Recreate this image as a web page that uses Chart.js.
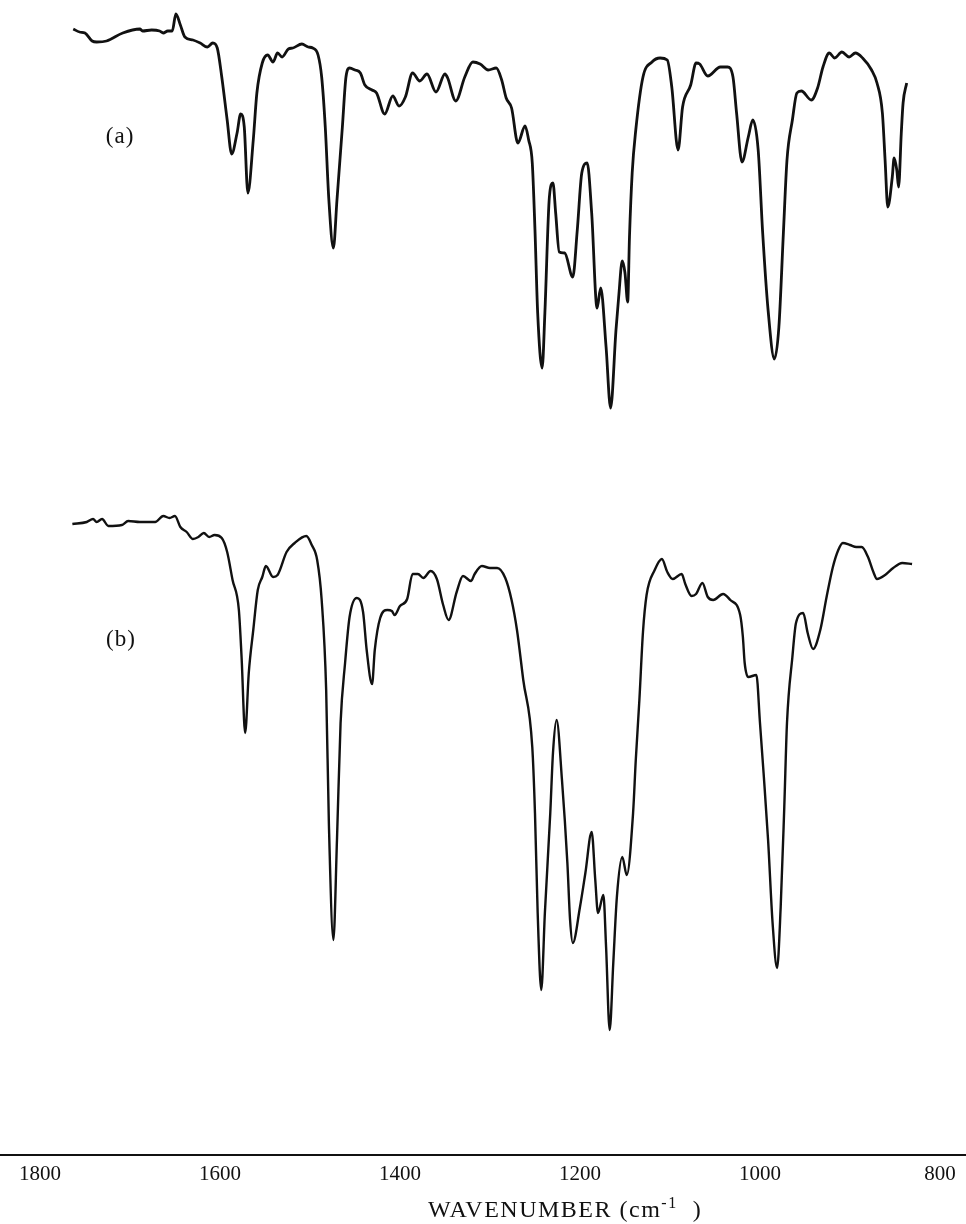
<!DOCTYPE html>
<html>
<head>
<meta charset="utf-8">
<script src="https://cdn.jsdelivr.net/npm/chart.js@4.4.1/dist/chart.umd.min.js"></script>
<style>
  html, body { margin: 0; padding: 0; background: #fff; }
  #wrap { width: 966px; height: 1224px; position: relative; }
</style>
</head>
<body>
<div id="wrap"><canvas id="chartIR"></canvas></div>
<script>
// wavenumber (cm-1) and relative transmittance
const wnA = [1763, 1756, 1750, 1742, 1737, 1726, 1708, 1689, 1686, 1676, 1667, 1663, 1658, 1653, 1649, 1644, 1639, 1630, 1622, 1614,
    1608, 1603, 1598, 1592, 1587, 1581, 1577, 1573, 1569, 1563, 1559, 1553, 1547, 1541, 1536, 1531, 1524, 1519, 1509, 1502,
    1497, 1491, 1487, 1483, 1479, 1474, 1470, 1464, 1460, 1456, 1450, 1444, 1439, 1431, 1426, 1417, 1408, 1401, 1394, 1386,
    1378, 1370, 1360, 1350, 1347, 1338, 1328, 1319, 1311, 1302, 1293, 1287, 1282, 1276, 1269, 1261, 1257, 1253, 1250, 1247,
    1242, 1239, 1234, 1230, 1227, 1223, 1217, 1208, 1203, 1198, 1192, 1187, 1181, 1177, 1171, 1166, 1160, 1157, 1153, 1150,
    1147, 1145, 1142, 1138, 1130, 1120, 1111, 1103, 1098, 1091, 1086, 1077, 1071, 1067, 1058, 1044, 1036, 1030, 1026, 1020,
    1013, 1008, 1002, 997, 991, 984, 979, 974, 970, 964, 959, 954, 943, 936, 930, 923, 917, 909, 901, 894,
    886, 876, 870, 864, 861, 858, 853, 851, 848, 846, 843, 841, 837];
const specA = [112.6, 112.3, 112.2, 111.4, 111.3, 111.4, 112.2, 112.6, 112.4, 112.5, 112.4, 112.2, 112.4, 112.4, 114.1, 113.0, 111.8, 111.5, 111.2, 110.8,
    111.2, 110.7, 107.8, 103.5, 100.1, 102.2, 104.1, 102.8, 96.2, 101.5, 106.2, 109.2, 110.0, 109.3, 110.2, 109.8, 110.6, 110.7, 111.1, 110.8,
    110.7, 110.0, 107.8, 102.8, 95.5, 90.7, 95.5, 102.8, 107.8, 108.7, 108.5, 108.2, 107.0, 106.5, 106.2, 104.1, 105.9, 104.9, 105.8, 108.2,
    107.4, 108.1, 106.3, 108.1, 107.7, 105.4, 107.8, 109.3, 109.1, 108.5, 108.7, 107.5, 105.7, 104.7, 101.2, 102.9, 101.5, 99.2, 92.5, 84.2,
    78.7, 84.2, 95.8, 97.2, 94.2, 90.3, 90.2, 87.8, 92.5, 98.2, 99.2, 94.2, 84.7, 86.7, 80.8, 74.7, 82.5, 85.8, 89.4, 88.2,
    85.3, 91.8, 98.2, 102.5, 107.8, 109.3, 109.7, 109.5, 106.8, 100.5, 104.8, 107.0, 109.2, 109.1, 107.9, 108.8, 108.8, 107.8, 104.2, 99.3,
    101.8, 103.5, 100.5, 92.2, 84.5, 79.6, 82.8, 92.2, 99.5, 103.5, 106.2, 106.4, 105.5, 106.7, 108.8, 110.2, 109.7, 110.3, 109.8, 110.2,
    109.7, 108.5, 107.2, 104.2, 99.5, 94.8, 97.8, 99.7, 98.5, 96.8, 102.2, 105.2, 107.2];

const wnB = [1764, 1748, 1741, 1737, 1731, 1724, 1709, 1702, 1689, 1672, 1663, 1656, 1650, 1644, 1637, 1630, 1624, 1618, 1612, 1606,
    1598, 1592, 1586, 1579, 1576, 1572, 1568, 1563, 1558, 1553, 1549, 1541, 1536, 1526, 1517, 1504, 1498, 1492, 1487, 1482,
    1479, 1474, 1470, 1466, 1461, 1456, 1448, 1441, 1437, 1431, 1428, 1422, 1414, 1409, 1406, 1400, 1392, 1386, 1380, 1374,
    1366, 1359, 1352, 1346, 1337, 1330, 1321, 1317, 1309, 1300, 1292, 1283, 1276, 1270, 1263, 1253, 1250, 1247, 1243, 1239,
    1233, 1230, 1226, 1220, 1214, 1211, 1208, 1200, 1194, 1187, 1183, 1180, 1174, 1171, 1167, 1163, 1159, 1153, 1148, 1141,
    1138, 1134, 1130, 1126, 1117, 1109, 1103, 1097, 1087, 1083, 1076, 1071, 1064, 1058, 1052, 1041, 1033, 1022, 1019, 1017,
    1013, 1004, 1000, 996, 991, 986, 981, 977, 973, 970, 964, 960, 952, 947, 941, 933, 926, 919, 913, 908,
    900, 893, 887, 880, 874, 870, 861, 852, 842, 831];
const specB = [63.1, 63.3, 63.6, 63.3, 63.6, 62.9, 63.0, 63.4, 63.3, 63.3, 63.9, 63.7, 63.9, 62.8, 62.3, 61.6, 61.8, 62.2, 61.8, 62.0,
    61.7, 60.3, 57.5, 54.5, 49.8, 42.2, 48.2, 52.5, 56.5, 57.8, 58.9, 57.8, 58.0, 60.3, 61.2, 61.9, 61.0, 59.5, 55.5, 46.5,
    33.2, 21.5, 31.5, 43.2, 49.2, 53.8, 55.7, 54.3, 50.5, 47.1, 50.5, 53.7, 54.5, 54.4, 54.0, 54.9, 55.6, 58.1, 58.1, 57.7,
    58.4, 57.6, 55.0, 53.5, 56.3, 57.9, 57.4, 58.1, 58.9, 58.7, 58.7, 57.7, 55.5, 52.5, 47.5, 40.8, 34.2, 24.2, 16.5, 24.2,
    34.2, 40.2, 43.5, 37.5, 29.2, 23.5, 21.2, 24.8, 28.2, 32.3, 27.5, 24.2, 26.0, 20.8, 12.5, 19.2, 25.8, 29.8, 28.0, 34.2,
    39.5, 45.5, 52.3, 56.0, 58.5, 59.6, 58.3, 57.6, 58.1, 57.1, 55.9, 56.1, 57.2, 55.8, 55.5, 56.1, 55.5, 54.0, 51.8, 49.2,
    47.8, 48.0, 43.2, 38.2, 31.5, 23.2, 18.7, 24.8, 34.8, 43.2, 49.8, 53.2, 54.2, 52.2, 50.6, 52.5, 55.8, 58.8, 60.5, 61.2,
    61.0, 60.8, 60.8, 59.8, 58.3, 57.6, 58.0, 58.7, 59.2, 59.1];

const tickValues = [1800, 1600, 1400, 1200, 1000, 800];

const SERIF = '"Liberation Serif", "DejaVu Serif", serif';

function toPoints(xs, ys) {
    return xs.map((x, i) => ({ x: x, y: ys[i] }));
}

// trace tags and the axis title with a real superscript
const textPlugin = {
    id: "irText",
    afterDraw(chart) {
        const { ctx, scales } = chart;
        ctx.save();
        ctx.fillStyle = "#111";
        ctx.textBaseline = "middle";
        ctx.textAlign = "center";
        ctx.font = "23px " + SERIF;
        ctx.letterSpacing = "1px";
        ctx.fillText("(a)", scales.x.getPixelForValue(1711), scales.y.getPixelForValue(101.8));
        ctx.fillText("(b)", scales.x.getPixelForValue(1710), scales.y.getPixelForValue(51.5));

        const main = "WAVENUMBER (cm", sup = "-1", tail = "  )";
        const big = "24px " + SERIF, small = "16px " + SERIF;
        ctx.letterSpacing = "1.5px";
        ctx.font = big;
        const w1 = ctx.measureText(main).width, w3 = ctx.measureText(tail).width;
        ctx.font = small;
        const w2 = ctx.measureText(sup).width;
        let x = chart.width * 0.585 - (w1 + w2 + w3) / 2;
        const base = chart.chartArea.bottom + 62;
        ctx.textAlign = "left";
        ctx.textBaseline = "alphabetic";
        ctx.font = big; ctx.fillText(main, x, base); x += w1;
        ctx.font = small; ctx.fillText(sup, x, base - 9); x += w2;
        ctx.font = big; ctx.fillText(tail, x, base);
        ctx.restore();
    },
};

document.addEventListener("DOMContentLoaded", () => {
    const c = document.getElementById("chartIR");
    new Chart(c, {
        type: "line",
        data: {
            datasets: [
                { label: "(a)", data: toPoints(wnA, specA), borderColor: "#111", borderWidth: 2.8, pointRadius: 0, cubicInterpolationMode: "monotone", fill: false },
                { label: "(b)", data: toPoints(wnB, specB), borderColor: "#111", borderWidth: 2.4, pointRadius: 0, cubicInterpolationMode: "monotone", fill: false },
            ],
        },
        options: {
            responsive: true, maintainAspectRatio: false, animation: false,
            layout: { padding: 0 },
            plugins: { legend: { display: false }, tooltip: { enabled: false } },
            scales: {
                x: {
                    type: "linear", reverse: true, min: 771.1, max: 1844.4,
                    grid: { display: false },
                    border: { display: true, color: "#111", width: 2 },
                    afterBuildTicks: (s) => { s.ticks = tickValues.map(v => ({ value: v })); },
                    afterFit: (s) => { s.height = 69; },
                    ticks: { color: "#111", padding: 1, maxRotation: 0, autoSkip: false, font: { family: SERIF, size: 21, lineHeight: 1 }, callback: (v) => String(v) },
                },
                y: { display: false, min: 0, max: 115.5 },
            },
        },
        plugins: [textPlugin],
    });
});
</script>
</body>
</html>
